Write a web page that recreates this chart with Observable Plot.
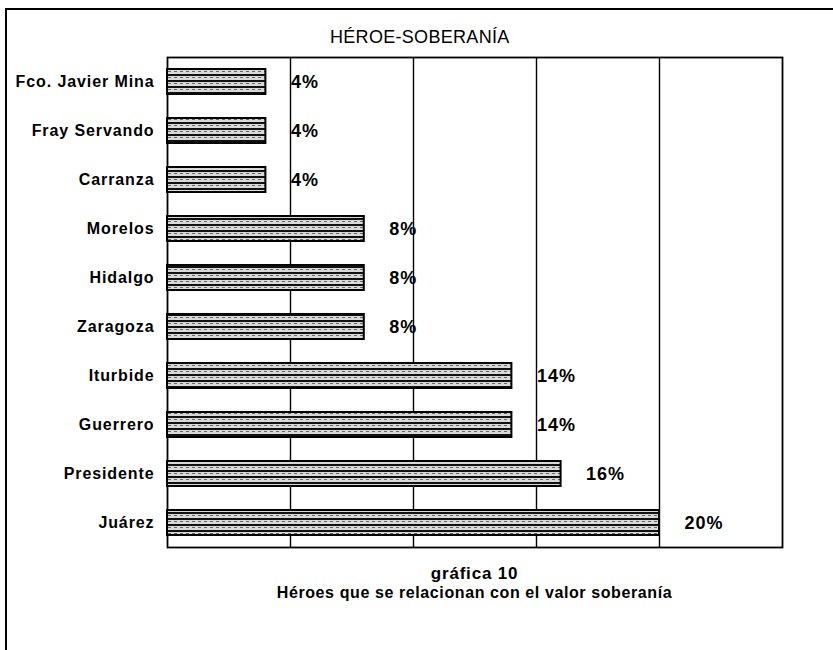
<!DOCTYPE html>
<html>
<head>
<meta charset="utf-8">
<script src="https://cdn.jsdelivr.net/npm/d3@7"></script>
<script src="https://cdn.jsdelivr.net/npm/@observablehq/plot@0.6"></script>
<style>
  html, body { margin: 0; padding: 0; background: #fff; }
  #wrap { position: relative; width: 833px; height: 650px; overflow: hidden; font-family: "Liberation Sans", Arial, sans-serif; }
  #frame { position: absolute; left: 5px; top: 8px; width: 840px; height: 700px; border-left: 2px solid #000; border-top: 2px solid #000; }
  #title { position: absolute; left: 330px; top: 27px; font-size: 18px; color: #000; letter-spacing: 0.3px; }
  #chart { position: absolute; left: 0; top: 0; }
  #cap1, #cap2 { position: absolute; left: 167px; width: 615px; text-align: center; font-weight: bold; color: #000; }
  #cap1 { top: 564px; font-size: 17px; letter-spacing: 0.8px; }
  #cap2 { top: 584px; font-size: 16px; letter-spacing: 0.6px; }
</style>
</head>
<body>
<div id="wrap">
  <div id="frame"></div>
  <div id="chart"></div>
  <div id="title">HÉROE-SOBERANÍA</div>
  <div id="cap1">gráfica 10</div>
  <div id="cap2">Héroes que se relacionan con el valor soberanía</div>
</div>
<script>
const heroes = ["Fco. Javier Mina", "Fray Servando", "Carranza", "Morelos", "Hidalgo", "Zaragoza", "Iturbide", "Guerrero", "Presidente", "Juárez"];
const percents = [4, 4, 4, 8, 8, 8, 14, 14, 16, 20];
const gridTicks = [5, 10, 15, 20];

const data = heroes.map((h, i) => ({hero: h, pct: percents[i]}));

const chart = Plot.plot({
  width: 833,
  height: 560,
  marginTop: 57,
  marginBottom: 13,
  marginLeft: 167,
  marginRight: 51,
  style: {fontFamily: "'Liberation Sans', Arial, sans-serif", background: "transparent"},
  x: {domain: [0, 25], axis: null},
  y: {domain: heroes, paddingInner: 0.5, paddingOuter: 0.25, label: null, axis: null},
  marks: [
    Plot.ruleX(gridTicks, {stroke: "#000", strokeWidth: 1.4}),
    Plot.frame({stroke: "#000", strokeWidth: 1.8}),
    Plot.barX(data, {x: "pct", y: "hero", fill: "url(#stripes)", stroke: "#000", strokeWidth: 2}),
    Plot.text(data, {x: "pct", y: "hero", text: d => d.pct + "%", textAnchor: "start", dx: 25, fontSize: 18, fontWeight: "bold", fill: "#000"}),
    Plot.axisY({tickSize: 5, tickPadding: 8, fontSize: 16, fontWeight: "bold", label: null, stroke: "#000"})
  ]
});

// letter spacing for axis labels
chart.querySelectorAll("[aria-label='y-axis tick label'] text").forEach(t => t.setAttribute("letter-spacing", "0.9"));
chart.querySelectorAll("[aria-label='text'] text").forEach(t => t.setAttribute("letter-spacing", "1"));
// hide axis tick marks (band centres) – reference has none there
chart.querySelectorAll("[aria-label='y-axis tick']").forEach(g => g.setAttribute("stroke-opacity", "0"));

// Striped texture for bars
const ns = "http://www.w3.org/2000/svg";
const defs = document.createElementNS(ns, "defs");
const pat = document.createElementNS(ns, "pattern");
pat.setAttribute("id", "stripes");
pat.setAttribute("patternUnits", "userSpaceOnUse");
pat.setAttribute("width", "6");
pat.setAttribute("height", "6");
const bg = document.createElementNS(ns, "rect");
bg.setAttribute("width", "6"); bg.setAttribute("height", "6"); bg.setAttribute("fill", "#d8d8d8");
pat.appendChild(bg);
const l1 = document.createElementNS(ns, "rect");
l1.setAttribute("x", "0"); l1.setAttribute("y", "2"); l1.setAttribute("width", "6"); l1.setAttribute("height", "2"); l1.setAttribute("fill", "#111");
pat.appendChild(l1);
const l2 = document.createElementNS(ns, "rect");
l2.setAttribute("x", "0"); l2.setAttribute("y", "5"); l2.setAttribute("width", "3"); l2.setAttribute("height", "1"); l2.setAttribute("fill", "#666");
pat.appendChild(l2);
defs.appendChild(pat);
chart.insertBefore(defs, chart.firstChild);

document.getElementById("chart").appendChild(chart);
</script>
</body>
</html>
